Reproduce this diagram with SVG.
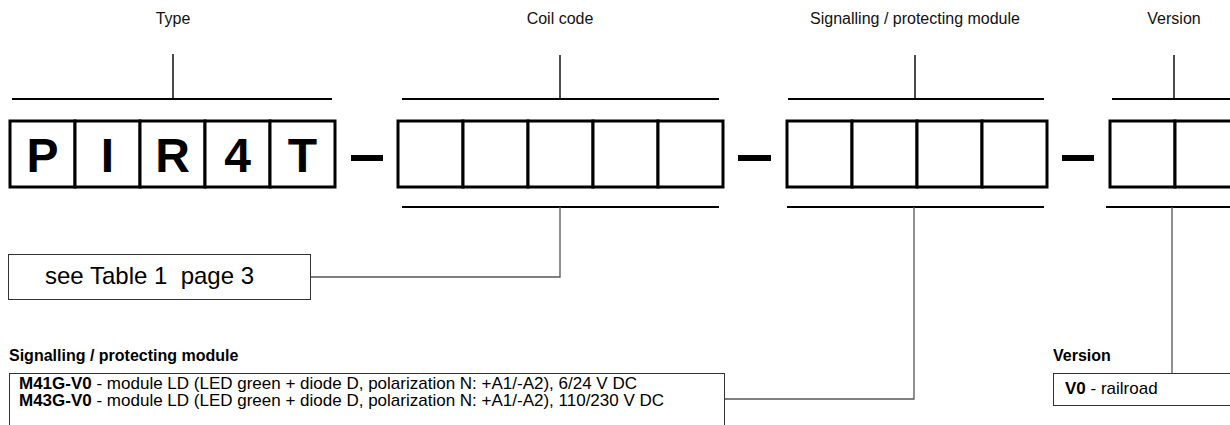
<svg xmlns="http://www.w3.org/2000/svg" width="1230" height="425" viewBox="0 0 1230 425">
<style>
  .lbl{font-family:"Liberation Sans",Arial,sans-serif;font-size:16px;fill:#111;text-anchor:middle}
  .big{font-family:"Liberation Sans",Arial,sans-serif;font-size:48px;font-weight:bold;fill:#000;text-anchor:middle}
  .cell{fill:#fff;stroke:#000;stroke-width:3}
  .dash{fill:#000}
  .brk{stroke:#000;stroke-width:2;fill:none}
  .tick{stroke:#111;stroke-width:1.5;fill:none}
  .con{stroke:#555;stroke-width:1.3;fill:none}
  .box{fill:#fff;stroke:#333;stroke-width:1}
  .hd{font-family:"Liberation Sans",Arial,sans-serif;font-size:16px;font-weight:bold;fill:#000}
  .txt{font-family:"Liberation Sans",Arial,sans-serif;font-size:17px;fill:#000}
  .b{font-weight:bold}
  .ref{font-family:"Liberation Sans",Arial,sans-serif;font-size:24px;fill:#000}
</style>
<rect width="1230" height="425" fill="#fff"/>

<g id="type">
  <text class="lbl" x="173" y="24">Type</text>
  <rect class="cell" x="10" y="121" width="65" height="66"/>
  <rect class="cell" x="75" y="121" width="65" height="66"/>
  <rect class="cell" x="140" y="121" width="65" height="66"/>
  <rect class="cell" x="205" y="121" width="65" height="66"/>
  <rect class="cell" x="270" y="121" width="65" height="66"/>
  <text class="big" x="42.5" y="172">P</text>
  <text class="big" x="107.5" y="172">I</text>
  <text class="big" x="172.5" y="172">R</text>
  <text class="big" x="237.5" y="172">4</text>
  <text class="big" x="302.5" y="172">T</text>
</g>

<g id="coil">
  <text class="lbl" x="560" y="24">Coil code</text>
  <rect class="cell" x="398" y="121" width="65" height="66"/>
  <rect class="cell" x="463" y="121" width="65" height="66"/>
  <rect class="cell" x="528" y="121" width="65" height="66"/>
  <rect class="cell" x="593" y="121" width="65" height="66"/>
  <rect class="cell" x="658" y="121" width="65" height="66"/>
</g>

<g id="signal">
  <text class="lbl" x="915" y="24">Signalling / protecting module</text>
  <rect class="cell" x="787" y="121" width="65" height="66"/>
  <rect class="cell" x="852" y="121" width="65" height="66"/>
  <rect class="cell" x="917" y="121" width="65" height="66"/>
  <rect class="cell" x="982" y="121" width="65" height="66"/>
</g>

<g id="version">
  <text class="lbl" x="1174" y="24">Version</text>
  <rect class="cell" x="1110" y="121" width="65" height="66"/>
  <rect class="cell" x="1175" y="121" width="65" height="66"/>
</g>

<g id="dashes">
  <rect class="dash" x="351" y="155" width="32" height="6"/>
  <rect class="dash" x="738" y="155" width="33" height="6"/>
  <rect class="dash" x="1062" y="155" width="32" height="6"/>
</g>

<g id="ref-box">
  <rect class="box" x="8.5" y="254.5" width="302" height="45"/>
  <text class="ref" x="45" y="284" xml:space="preserve">see Table 1  page 3</text>
</g>

<g id="signal-legend">
  <text class="hd" x="9" y="361">Signalling / protecting module</text>
  <rect class="box" x="9.5" y="373.5" width="715" height="70"/>
  <text class="txt" x="19" y="389"><tspan class="b">M41G-V0</tspan> - module LD (LED green + diode D, polarization N: +A1/-A2), 6/24 V DC</text>
  <text class="txt" x="19" y="406"><tspan class="b">M43G-V0</tspan> - module LD (LED green + diode D, polarization N: +A1/-A2), 110/230 V DC</text>
</g>

<g id="version-legend">
  <text class="hd" x="1053" y="361">Version</text>
  <rect class="box" x="1053.5" y="373.5" width="200" height="32"/>
  <text class="txt" x="1065" y="394"><tspan class="b">V0</tspan> - railroad</text>
</g>

<g id="connectors">
  <line class="tick" x1="173" y1="54" x2="173" y2="99"/>
  <line class="brk" x1="12" y1="99" x2="332" y2="99"/>
  <line class="tick" x1="560" y1="55" x2="560" y2="99"/>
  <line class="brk" x1="402" y1="99" x2="719" y2="99"/>
  <line class="tick" x1="915" y1="55" x2="915" y2="99"/>
  <line class="brk" x1="788" y1="99" x2="1044" y2="99"/>
  <line class="tick" x1="1174" y1="55" x2="1174" y2="99"/>
  <line class="brk" x1="1112" y1="99" x2="1230" y2="99"/>

  <line class="brk" x1="402" y1="207" x2="719" y2="207"/>
  <line class="brk" x1="787" y1="207" x2="1044" y2="207"/>
  <line class="brk" x1="1106" y1="207" x2="1230" y2="207"/>

  <polyline class="con" points="560,207 560,277 311,277"/>
  <polyline class="con" points="914,207 914,399 725,399"/>
  <line class="con" x1="1172" y1="207" x2="1172" y2="373"/>
</g>
</svg>
